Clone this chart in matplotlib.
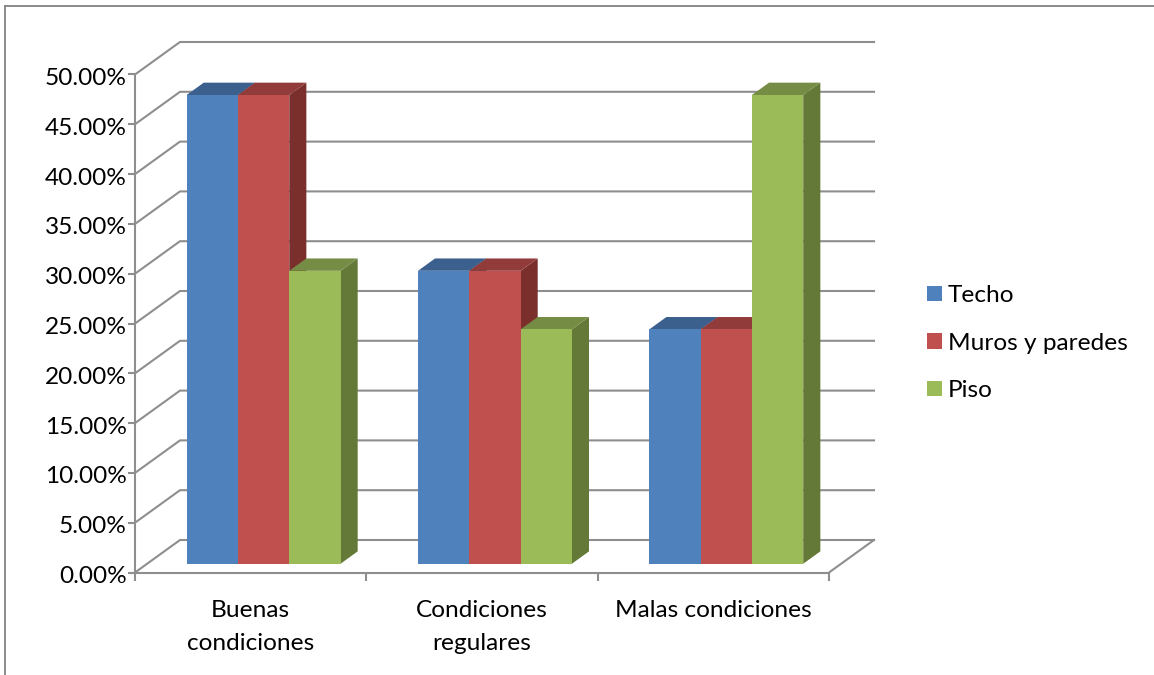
import matplotlib
matplotlib.use("Agg")
import matplotlib.pyplot as plt
from matplotlib.lines import Line2D
from matplotlib.patches import Patch, Polygon
from matplotlib.transforms import ScaledTranslation

plt.rcParams['font.family'] = ['Lato', 'DejaVu Sans']

categories = ["Buenas\ncondiciones", "Condiciones\nregulares", "Malas condiciones"]
series_names = ["Techo", "Muros y paredes", "Piso"]
techo = [47.06, 29.41, 23.53]
muros = [47.06, 29.41, 23.53]
piso = [29.41, 23.53, 47.06]
series_values = [techo, muros, piso]
y_ticks = list(range(0, 51, 5))

front_colors = ["#4F81BD", "#C0504D", "#9BBB59"]
top_colors = ["#3B608E", "#913C3A", "#748C43"]
side_colors = ["#2F4C71", "#7A2F2D", "#647837"]
GRID = "#8E8E8E"
FONT = 17.6

W, H = 1154, 675
fig = plt.figure(figsize=(W / 100, H / 100), dpi=100)
L, R, T, B = 135, 829, 74.5, 572.5
ax = fig.add_axes([L / W, 1 - B / H, (R - L) / W, (B - T) / H])
ax.set_xlim(0, 3)
ax.set_ylim(0, 50)

# oblique projection: depth 1 = back wall
DX = 45 / ((R - L) / 3)
DY = 32.5 / ((B - T) / 50)


def proj(x, y, d):
    return x + d * DX, y + d * DY


# walls and gridlines
for v in y_ticks:
    pts = [proj(0, v, 0), proj(0, v, 1), proj(3, v, 1)]
    ax.plot(*zip(*pts), color=GRID, lw=1.5, clip_on=False, zorder=1, solid_joinstyle="round")
ax.plot(*zip(proj(3, 0, 0), proj(3, 0, 1)), color=GRID, lw=1.5, clip_on=False, zorder=1)

# 3D bars
BAR_W = 0.2218
BAR_OFF = 0.1707
D0, D1 = 0.27, 0.65
for i, cat_vals in enumerate(zip(*series_values)):
    for j, v in enumerate(cat_vals):
        x0 = i + BAR_OFF + j * BAR_W
        x1 = x0 + BAR_W
        side = [proj(x1, 0, D0), proj(x1, 0, D1), proj(x1, v, D1), proj(x1, v, D0)]
        top = [proj(x0, v, D0), proj(x1, v, D0), proj(x1, v, D1), proj(x0, v, D1)]
        front = [proj(x0, 0, D0), proj(x1, 0, D0), proj(x1, v, D0), proj(x0, v, D0)]
        z = 3 + j
        ax.add_patch(Polygon(side, closed=True, fc=side_colors[j], ec="none", clip_on=False, zorder=z))
        ax.add_patch(Polygon(top, closed=True, fc=top_colors[j], ec="none", clip_on=False, zorder=z))
        ax.add_patch(Polygon(front, closed=True, fc=front_colors[j], ec="none", clip_on=False, zorder=z + 0.5))

# axes
for s in ("top", "right"):
    ax.spines[s].set_visible(False)
for s in ("left", "bottom"):
    ax.spines[s].set_color(GRID)
    ax.spines[s].set_linewidth(1.5)
    ax.spines[s].set_zorder(2)
ax.patch.set_alpha(0)
ax.set_yticks(y_ticks)
ax.set_yticklabels([f"{v:.2f}%" for v in y_ticks], fontsize=FONT, color="black")
ax.tick_params(axis="y", length=5, width=1.5, color=GRID, pad=1)
shift = ScaledTranslation(0, -2 / 100, fig.dpi_scale_trans)
for lab in ax.get_yticklabels():
    lab.set_transform(lab.get_transform() + shift)
ax.set_xticks([0, 1, 2, 3])
ax.set_xticklabels([])
ax.set_xticks([0.5, 1.5, 2.5], minor=True)
ax.set_xticklabels(categories, minor=True, fontsize=FONT, color="black", linespacing=1.68)
ax.tick_params(axis="x", which="major", length=6, width=1.5, color=GRID)
ax.tick_params(axis="x", which="minor", length=0, pad=20)

# legend
handles = [Patch(fc=c, ec="none", label=n) for c, n in zip(front_colors, series_names)]
px = 100 / 72 * FONT
ax.legend(handles=handles, loc="center left", bbox_to_anchor=(927 / W, 1 - 343 / H),
          bbox_transform=fig.transFigure, frameon=False, fontsize=FONT, borderpad=0,
          borderaxespad=0, handlelength=15 / px, handleheight=15 / px, handletextpad=6 / px,
          labelspacing=(49.7 - px * 0.95) / px)

# outer frame (top and left edges only)
for xs, ys in (([5, W], [6, 6]), ([5, 5], [6, H])):
    fig.add_artist(Line2D([x / W for x in xs], [1 - y / H for y in ys], color="#8A8A8A", lw=1.4,
                          transform=fig.transFigure))

fig.savefig("out.png", dpi=100)
